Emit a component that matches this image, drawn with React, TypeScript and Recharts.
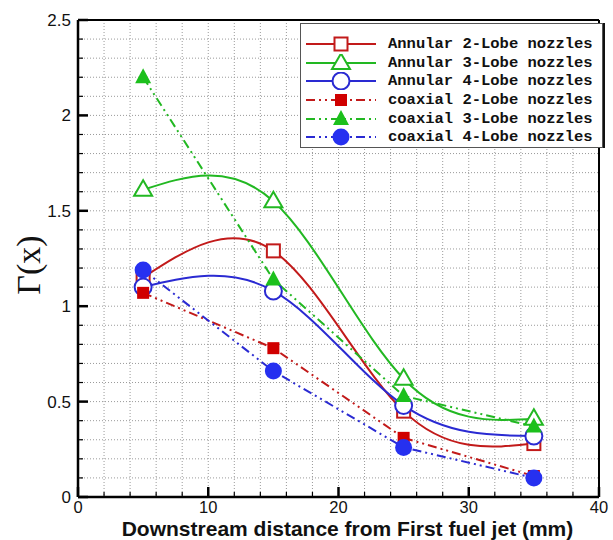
import React from 'react';
import { LineChart, Line, XAxis, YAxis, CartesianGrid, ReferenceLine, Legend } from 'recharts';

const distances = [5, 15, 25, 35];
const annular2 = [1.15, 1.29, 0.45, 0.28];
const annular3 = [1.61, 1.55, 0.62, 0.41];
const annular4 = [1.1, 1.08, 0.48, 0.32];
const coaxial2 = [1.07, 0.78, 0.31, 0.11];
const coaxial3 = [2.2, 1.14, 0.53, 0.37];
const coaxial4 = [1.19, 0.66, 0.26, 0.1];

const xTicks = [0, 2, 4, 6, 8, 10, 12, 14, 16, 18, 20, 22, 24, 26, 28, 30, 32, 34, 36, 38, 40];
const xMajor = [0, 10, 20, 30, 40];
const yTicks = [0, 0.1, 0.2, 0.3, 0.4, 0.5, 0.6, 0.7, 0.8, 0.9, 1, 1.1, 1.2, 1.3, 1.4, 1.5, 1.6, 1.7, 1.8, 1.9, 2, 2.1, 2.2, 2.3, 2.4, 2.5];
const yMajor = [0, 0.5, 1, 1.5, 2, 2.5];

const RED = '#c21a1a';
const GREEN = '#22b822';
const BLUE = '#2a2ad2';
const BLUE_FILL = '#2630f0';

const data = distances.map((d, i) => ({
  x: d,
  a2: annular2[i],
  a3: annular3[i],
  a4: annular4[i],
  c2: coaxial2[i],
  c3: coaxial3[i],
  c4: coaxial4[i],
}));

type Shape = 'osq' | 'otri' | 'ocirc' | 'fsq' | 'ftri' | 'fcirc';

const series: { key: string; name: string; color: string; fill: string; dash?: string; shape: Shape; curve: 'natural' | 'linear' }[] = [
  { key: 'a2', name: 'Annular 2-Lobe nozzles', color: RED, fill: RED, shape: 'osq', curve: 'natural' },
  { key: 'a3', name: 'Annular 3-Lobe nozzles', color: GREEN, fill: GREEN, shape: 'otri', curve: 'natural' },
  { key: 'a4', name: 'Annular 4-Lobe nozzles', color: BLUE, fill: BLUE, shape: 'ocirc', curve: 'natural' },
  { key: 'c2', name: 'coaxial 2-Lobe nozzles', color: RED, fill: '#d00000', dash: '9 4 2 4 2 4', shape: 'fsq', curve: 'linear' },
  { key: 'c3', name: 'coaxial 3-Lobe nozzles', color: GREEN, fill: '#1cc01c', dash: '9 4 2 4 2 4', shape: 'ftri', curve: 'linear' },
  { key: 'c4', name: 'coaxial 4-Lobe nozzles', color: BLUE, fill: BLUE_FILL, dash: '9 4 2 4 2 4', shape: 'fcirc', curve: 'linear' },
];

function Marker({ cx, cy, shape, color, fill }: { cx: number; cy: number; shape: Shape; color: string; fill: string }) {
  if (cx == null || cy == null) return null;
  switch (shape) {
    case 'osq':
      return <rect x={cx - 6.5} y={cy - 6.5} width={13} height={13} fill="#fff" stroke={color} strokeWidth={2} />;
    case 'otri':
      return <polygon points={`${cx},${cy - 9.5} ${cx - 9},${cy + 6} ${cx + 9},${cy + 6}`} fill="#fff" stroke={color} strokeWidth={2} />;
    case 'ocirc':
      return <circle cx={cx} cy={cy} r={8.5} fill="#fff" stroke={color} strokeWidth={2} />;
    case 'fsq':
      return <rect x={cx - 6} y={cy - 6} width={12} height={12} fill={fill} stroke="none" />;
    case 'ftri':
      return <polygon points={`${cx},${cy - 9} ${cx - 8},${cy + 6} ${cx + 8},${cy + 6}`} fill={fill} stroke="none" />;
    case 'fcirc':
      return <circle cx={cx} cy={cy} r={8.5} fill={fill} stroke="none" />;
  }
  return null;
}

const isMajorX = (v: number) => xMajor.indexOf(v) >= 0;
const isMajorY = (v: number) => yMajor.some((m) => Math.abs(m - v) < 1e-6);

function XTick(props: any) {
  const { x, y, payload } = props;
  const v = payload.value;
  const major = isMajorX(v);
  return (
    <g>
      <line x1={x} x2={x} y1={y} y2={y - (major ? 10 : 5)} stroke="#000" strokeWidth={major ? 2.5 : 1.2} />
      {major && (
        <text x={x} y={y + 15.5} textAnchor="middle" fontSize={16.5} fontFamily="'Liberation Sans', Arial, sans-serif" fill="#111">
          {String(v)}
        </text>
      )}
    </g>
  );
}

function YTick(props: any) {
  const { x, y, payload } = props;
  const v = payload.value;
  const major = isMajorY(v);
  return (
    <g>
      <line x1={x} x2={x + (major ? 10 : 5)} y1={y} y2={y} stroke="#000" strokeWidth={major ? 2.5 : 1.2} />
      {major && (
        <text x={x - 7} y={y + 6} textAnchor="end" fontSize={17} fontFamily="'Liberation Sans', Arial, sans-serif" fill="#111">
          {String(Math.round(v * 10) / 10)}
        </text>
      )}
    </g>
  );
}

function XLabel(props: any) {
  const vb = props.viewBox || { x: 78, y: 497, width: 521, height: 43 };
  const cx = vb.x + vb.width / 2 + 9;
  return (
    <text x={cx} y={vb.y + 38.5} textAnchor="middle" fontSize={21} fontWeight="bold" fontFamily="'Liberation Sans', Arial, sans-serif" fill="#111">
      Downstream distance from First fuel jet (mm)
    </text>
  );
}

function YLabel() {
  return (
    <text x={28} y={265} transform="rotate(-90 28 265)" textAnchor="middle" dominantBaseline="central" fontSize={34} fontFamily="'Liberation Serif', 'Times New Roman', serif" fill="#111">
      Γ(x)
    </text>
  );
}

function LegendBox() {
  return (
    <div
      style={{
        boxSizing: 'border-box',
        width: 303,
        height: 125,
        border: '1px solid #555',
        boxShadow: '2px 0 0 #111',
        background: '#fff',
        paddingTop: 11,
        paddingLeft: 4,
      }}
    >
      {series.map((s) => (
        <div key={s.key} style={{ display: 'flex', alignItems: 'center', height: 18.6 }}>
          <svg width={72} height={18} style={{ display: 'block' }}>
            <line x1={1} x2={71} y1={9} y2={9} stroke={s.color} strokeWidth={2} strokeDasharray={s.dash} />
            <Marker cx={36} cy={9} shape={s.shape} color={s.color} fill={s.fill} />
          </svg>
          <span
            style={{
              marginLeft: 11,
              fontFamily: "'Liberation Mono', 'Courier New', monospace",
              fontWeight: 'bold',
              fontSize: 15.5,
              color: '#111',
              whiteSpace: 'pre',
              lineHeight: '18px',
            }}
          >
            {s.name}
          </span>
        </div>
      ))}
    </div>
  );
}

export default function App() {
  return (
    <div style={{ position: 'absolute', left: 0, top: 0, width: 613, height: 540, background: '#fff' }}>
      <LineChart width={613} height={540} data={data} margin={{ top: 20, right: 14, bottom: 0, left: 0 }}>
        <CartesianGrid stroke="#9a9a9a" strokeDasharray="1 2" strokeWidth={1} />
        <XAxis
          type="number"
          dataKey="x"
          domain={[0, 40]}
          ticks={xTicks}
          interval={0}
          height={43}
          tickSize={0}
          tickMargin={0}
          tickLine={false}
          axisLine={{ stroke: '#000', strokeWidth: 2.5 }}
          tick={<XTick />}
          label={<XLabel />}
        />
        <YAxis
          type="number"
          domain={[0, 2.5]}
          ticks={yTicks}
          interval={0}
          width={78}
          tickSize={0}
          tickMargin={0}
          tickLine={false}
          axisLine={{ stroke: '#000', strokeWidth: 2.5 }}
          tick={<YTick />}
          label={<YLabel />}
        />
        <ReferenceLine y={2.5} stroke="#000" strokeWidth={2} />
        <ReferenceLine x={40} stroke="#000" strokeWidth={2} />
        {series.map((s) => (
          <Line
            key={s.key}
            type={s.curve}
            dataKey={s.key}
            name={s.name}
            stroke={s.color}
            strokeWidth={2}
            strokeDasharray={s.dash}
            isAnimationActive={false}
            dot={(p: any) => <Marker key={`${s.key}-${p.index}`} cx={p.cx} cy={p.cy} shape={s.shape} color={s.color} fill={s.fill} />}
            activeDot={false}
          />
        ))}
        <Legend
          layout="vertical"
          align="center"
          verticalAlign="middle"
          content={() => <LegendBox />}
          wrapperStyle={{ left: 300, top: 23, width: 303, height: 125 }}
        />
      </LineChart>
    </div>
  );
}
